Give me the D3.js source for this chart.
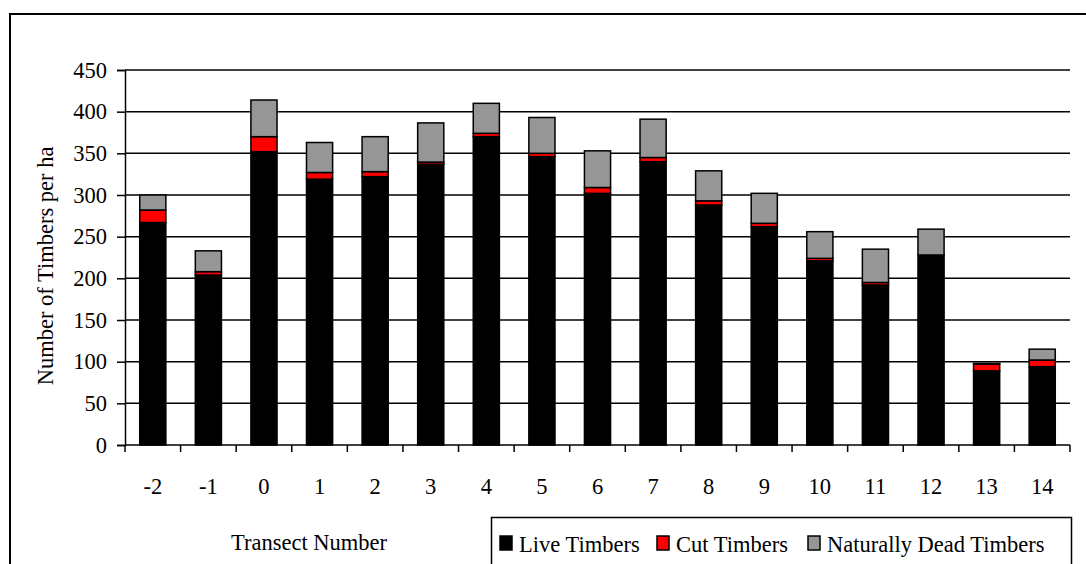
<!DOCTYPE html>
<html>
<head>
<meta charset="utf-8">
<script src="https://cdn.jsdelivr.net/npm/d3@7"></script>
<style>
  body { margin: 0; background: #fff; }
  svg text { font-family: "Liberation Serif", "Times New Roman", Times, serif; fill: #000; }
</style>
</head>
<body>
<div class="chart"></div>
<script>
const WIDTH = 1086;
const HEIGHT = 564;

const LEFT = 125;
const RIGHT = 1070;
const TOP = 70;
const BOTTOM = 445;
const FONT = 22.5;

// data
var transects = ['-2', '-1', '0', '1', '2', '3', '4', '5', '6', '7', '8', '9', '10', '11', '12', '13', '14'];
var liveTimbers = [267, 204, 352, 319, 322, 337, 370, 346, 302, 340, 288, 262, 221, 192, 228, 89, 94];
var cutTimbers = [15, 4, 18, 8, 6, 2.5, 4, 4, 7, 5, 5, 4, 3, 3, 0, 8, 8];
var deadTimbers = [18, 25, 44, 36, 42, 47, 36, 43, 44, 46, 36, 36, 32, 40, 31, 1, 13];
var yTicks = [0, 50, 100, 150, 200, 250, 300, 350, 400, 450];

var seriesNames = ['Live Timbers', 'Cut Timbers', 'Naturally Dead Timbers'];
var seriesColors = ['#000000', '#ff0000', '#969696'];

var rows = transects.map(function (t, i) {
    return { t: t, live: liveTimbers[i], cut: cutTimbers[i], dead: deadTimbers[i] };
});

var xScale = d3.scaleBand().domain(transects).range([LEFT, RIGHT])
    .paddingInner(0.53).paddingOuter(0.265);
var yScale = d3.scaleLinear().domain([0, 450]).range([BOTTOM, TOP]);

var svg = d3.select('.chart').append('svg')
    .attr('width', WIDTH)
    .attr('height', HEIGHT);

// outer frame, runs off the right and bottom edges
svg.append('rect')
    .attr('x', 10).attr('y', 14)
    .attr('width', 1200).attr('height', 700)
    .attr('fill', 'none').attr('stroke', '#000').attr('stroke-width', 2);

// gridlines
svg.append('g').selectAll('line').data(yTicks.filter(function (d) { return d > 0; })).enter()
    .append('line')
    .attr('x1', LEFT).attr('x2', RIGHT)
    .attr('y1', function (d) { return yScale(d); })
    .attr('y2', function (d) { return yScale(d); })
    .attr('stroke', '#000').attr('stroke-width', 1.5);

// stacked bars
var stack = d3.stack().keys(['live', 'cut', 'dead']);
var layers = stack(rows);

svg.append('g').selectAll('g').data(layers).enter().append('g')
    .attr('fill', function (d, i) { return seriesColors[i]; })
    .selectAll('rect').data(function (d) { return d; }).enter().append('rect')
    .attr('x', function (d) { return xScale(d.data.t); })
    .attr('width', xScale.bandwidth())
    .attr('y', function (d) { return yScale(d[1]); })
    .attr('height', function (d) { return yScale(d[0]) - yScale(d[1]); })
    .attr('stroke', '#000').attr('stroke-width', 1.5);

// y axis
var yAxis = d3.axisLeft(yScale).tickValues(yTicks).tickSize(8).tickPadding(10);
var yAxisG = svg.append('g').attr('transform', 'translate(' + LEFT + ',0)').call(yAxis);
yAxisG.attr('font-family', null).attr('font-size', null);
yAxisG.select('.domain').attr('stroke-width', 1.5);
yAxisG.selectAll('.tick line').attr('stroke-width', 1.5);
yAxisG.selectAll('text').attr('font-size', FONT);

// x axis: ticks sit between the categories
var step = xScale.step();
var gap = step * xScale.paddingInner();
var xTickPos = transects.map(function (t) { return xScale(t) - gap / 2; });
xTickPos.push(xScale(transects[transects.length - 1]) + xScale.bandwidth() + gap / 2);

var xAxisG = svg.append('g');
xAxisG.append('line')
    .attr('x1', LEFT).attr('x2', RIGHT)
    .attr('y1', BOTTOM).attr('y2', BOTTOM)
    .attr('stroke', '#000').attr('stroke-width', 1.5);
xAxisG.selectAll('.xtick').data(xTickPos).enter().append('line')
    .attr('x1', function (d) { return d; }).attr('x2', function (d) { return d; })
    .attr('y1', BOTTOM).attr('y2', BOTTOM + 7)
    .attr('stroke', '#000').attr('stroke-width', 1.5);
xAxisG.selectAll('text').data(transects).enter().append('text')
    .attr('x', function (d) { return xScale(d) + xScale.bandwidth() / 2; })
    .attr('y', 494)
    .attr('text-anchor', 'middle')
    .attr('font-size', FONT)
    .text(function (d) { return d; });

// axis titles
svg.append('text')
    .attr('x', 309).attr('y', 550)
    .attr('text-anchor', 'middle')
    .attr('font-size', FONT)
    .text('Transect Number');

svg.append('text')
    .attr('transform', 'translate(53,' + 266 + ') rotate(-90)')
    .attr('text-anchor', 'middle')
    .attr('font-size', FONT)
    .text('Number of Timbers per ha');

// legend
var legend = svg.append('g');
legend.append('rect')
    .attr('x', 491.5).attr('y', 517.5)
    .attr('width', 580).attr('height', 60)
    .attr('fill', '#fff').attr('stroke', '#000').attr('stroke-width', 1.5);

var legendX = [500, 657, 808];
var items = legend.selectAll('.item').data(seriesNames).enter().append('g')
    .attr('transform', function (d, i) { return 'translate(' + legendX[i] + ',0)'; });
items.append('rect')
    .attr('x', 0).attr('y', 536)
    .attr('width', 12).attr('height', 14)
    .attr('fill', function (d, i) { return seriesColors[i]; })
    .attr('stroke', '#000').attr('stroke-width', 1.5);
items.append('text')
    .attr('x', 19).attr('y', 552)
    .attr('font-size', FONT)
    .text(function (d) { return d; });
</script>
</body>
</html>
